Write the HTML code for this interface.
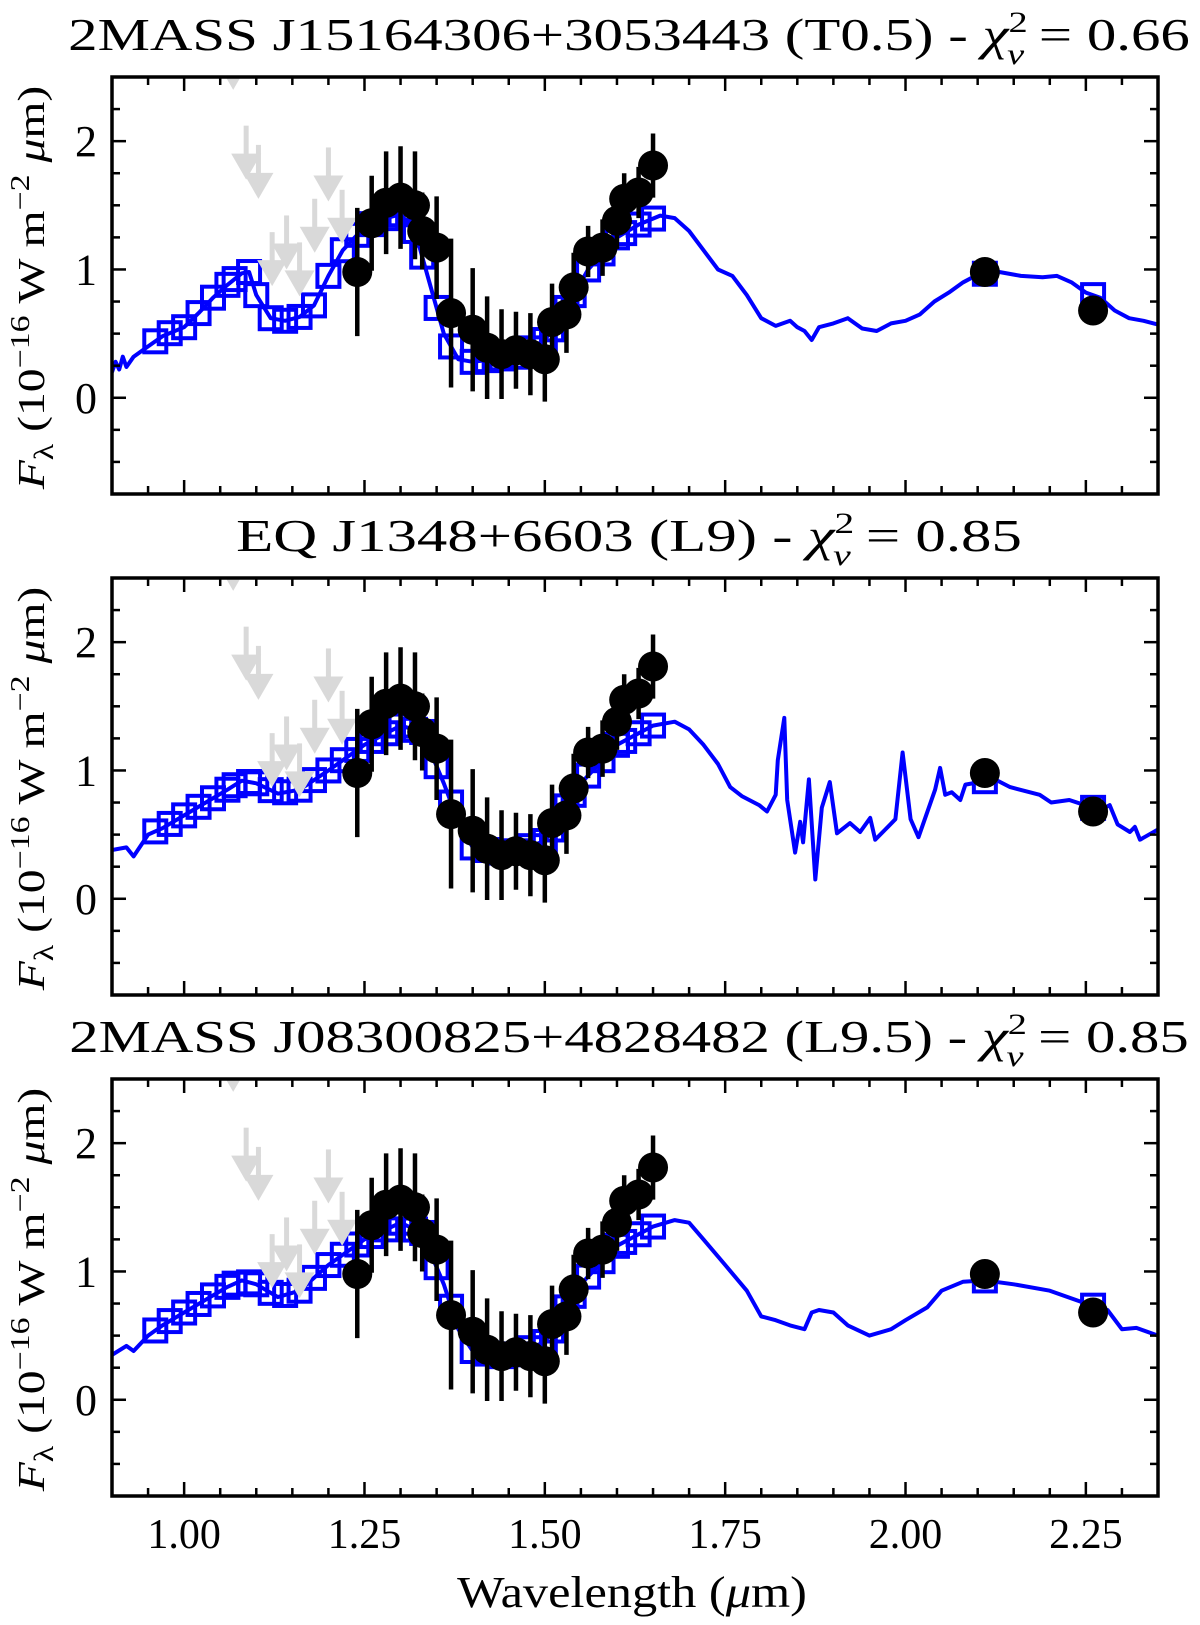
<!DOCTYPE html>
<html><head><meta charset="utf-8"><style>
html,body{margin:0;padding:0;background:#fff;overflow:hidden;}
svg{display:block;}
text{font-family:"Liberation Serif",serif;fill:#000;}
</style></head>
<body>
<svg id="fig" width="1200" height="1625" viewBox="0 0 1200 1625" xmlns="http://www.w3.org/2000/svg"></svg>
<script>
// ---------- data ----------
const obsWave = [1.24,1.26,1.28,1.30,1.32,1.33,1.35,1.37,1.40,1.42,1.44,1.46,1.48,1.50,1.51,1.53,1.54,1.56,1.58,1.60,1.61,1.63,1.65,2.11,2.26];
const obsFlux = [0.98,1.36,1.52,1.56,1.50,1.30,1.17,0.66,0.53,0.39,0.34,0.37,0.34,0.30,0.59,0.65,0.86,1.14,1.17,1.38,1.55,1.60,1.81,0.98,0.68];
const obsErr  = [0.5,0.37,0.4,0.4,0.42,0.3,0.4,0.58,0.48,0.4,0.35,0.3,0.32,0.33,0.3,0.3,0.27,0.2,0.22,0.22,0.2,0.2,0.25,0.03,0.03];
const limWave = [1.068,1.086,1.103,1.122,1.142,1.160,1.181,1.200,1.219];
const limFlux = [2.40,1.70,1.55,0.87,1.00,0.79,1.13,1.53,1.20];
const synWave = [0.96,0.98,1.00,1.02,1.04,1.06,1.07,1.09,1.10,1.12,1.14,1.16,1.18,1.20,1.22,1.24,1.26,1.28,1.30,1.32,1.33,1.35,1.37,1.40,1.42,1.44,1.46,1.48,1.50,1.51,1.53,1.54,1.56,1.58,1.60,1.61,1.63,1.65,2.11,2.26];

const titles = [
  {name:"2MASS J15164306+3053443 (T0.5)", chi:"0.66"},
  {name:"EQ J1348+6603 (L9)", chi:"0.85"},
  {name:"2MASS J08300825+4828482 (L9.5)", chi:"0.85"}
];
const titleWidths = [1122,786,1120];
const xTicks = [1.00,1.25,1.50,1.75,2.00,2.25];
const xTickLabels = ["1.00","1.25","1.50","1.75","2.00","2.25"];
const yTicks = [0,1,2];
const yTickLabels = ["0","1","2"];

const m1w = [0.90,0.905,0.91,0.915,0.92,0.93,0.95,0.97,1.00,1.02,1.04,1.06,1.08,1.09,1.10,1.12,1.14,1.16,1.18,1.20,1.22,1.25,1.28,1.30,1.32,1.34,1.36,1.38,1.40,1.43,1.46,1.50,1.53,1.56,1.60,1.63,1.66,1.68,1.70,1.72,1.74,1.76,1.78,1.80,1.82,1.84,1.85,1.86,1.87,1.88,1.90,1.92,1.94,1.96,1.98,2.00,2.02,2.04,2.06,2.08,2.10,2.13,2.16,2.19,2.21,2.23,2.25,2.27,2.29,2.31,2.33,2.35];
const m1f = [0.20,0.28,0.22,0.32,0.24,0.32,0.40,0.48,0.55,0.66,0.78,0.88,0.97,0.98,0.80,0.62,0.60,0.63,0.72,0.95,1.15,1.33,1.40,1.43,1.30,0.90,0.50,0.30,0.28,0.30,0.32,0.45,0.70,1.00,1.25,1.35,1.42,1.40,1.30,1.15,1.00,0.95,0.80,0.62,0.56,0.60,0.55,0.52,0.45,0.55,0.58,0.62,0.54,0.52,0.58,0.60,0.65,0.75,0.82,0.90,0.96,0.98,0.95,0.94,0.95,0.90,0.82,0.78,0.68,0.62,0.60,0.57];
const m2w = [0.90,0.92,0.93,0.95,0.97,1.00,1.03,1.06,1.08,1.10,1.13,1.16,1.20,1.25,1.30,1.33,1.36,1.38,1.40,1.45,1.50,1.55,1.60,1.65,1.68,1.70,1.72,1.74,1.757,1.773,1.797,1.808,1.82,1.823,1.832,1.836,1.847,1.854,1.858,1.866,1.875,1.884,1.895,1.905,1.923,1.937,1.951,1.958,1.972,1.986,1.996,2.007,2.018,2.041,2.048,2.055,2.064,2.076,2.083,2.124,2.145,2.186,2.202,2.227,2.27,2.283,2.294,2.311,2.318,2.325,2.35];
const m2f = [0.38,0.40,0.33,0.50,0.55,0.65,0.75,0.85,0.92,0.90,0.82,0.85,1.00,1.20,1.35,1.30,0.90,0.60,0.40,0.35,0.45,0.90,1.20,1.35,1.38,1.32,1.20,1.05,0.87,0.80,0.73,0.68,0.81,1.08,1.41,0.77,0.36,0.60,0.44,0.93,0.15,0.71,0.91,0.51,0.59,0.52,0.63,0.46,0.54,0.62,1.14,0.62,0.48,0.85,1.02,0.81,0.83,0.77,0.89,0.93,0.87,0.81,0.75,0.77,0.69,0.73,0.58,0.52,0.56,0.46,0.54];
const m3w = [0.90,0.92,0.93,0.95,0.97,1.00,1.03,1.06,1.08,1.10,1.13,1.16,1.20,1.25,1.30,1.33,1.36,1.38,1.40,1.45,1.50,1.55,1.60,1.65,1.68,1.70,1.72,1.75,1.78,1.80,1.82,1.84,1.86,1.87,1.88,1.90,1.92,1.95,1.98,2.00,2.03,2.05,2.08,2.11,2.15,2.20,2.25,2.28,2.30,2.32,2.35];
const m3f = [0.35,0.42,0.38,0.50,0.58,0.68,0.78,0.88,0.93,0.90,0.80,0.85,1.05,1.25,1.38,1.30,0.90,0.55,0.38,0.33,0.45,0.90,1.20,1.35,1.40,1.38,1.25,1.05,0.85,0.65,0.62,0.58,0.55,0.68,0.70,0.68,0.58,0.50,0.55,0.62,0.72,0.85,0.92,0.93,0.90,0.85,0.75,0.70,0.55,0.56,0.50];
const models = [[m1w,m1f],[m2w,m2f],[m3w,m3f]];

// ---------- layout ----------
const NS="http://www.w3.org/2000/svg";
const svg=document.getElementById('fig');
const X0=112, X1=1158, XMIN=0.9, XMAX=2.35, YMIN=-0.75, YMAX=2.5;
const panelTops=[77,578,1079], PH=417;
function sx(v){return X0+(v-XMIN)/(XMAX-XMIN)*(X1-X0);}
function mk(tag,attrs,parent){const e=document.createElementNS(NS,tag);for(const k in attrs)e.setAttribute(k,attrs[k]);(parent||svg).appendChild(e);return e;}
function interp(w,f,x){for(let i=0;i<w.length-1;i++){if(x>=w[i]&&x<=w[i+1]){const t=(x-w[i])/(w[i+1]-w[i]);return f[i]+t*(f[i+1]-f[i]);}}return f[f.length-1];}
// stretch a text element along its reading direction to a target length
function fit(g,el,cx,cy,target,rot){
  const bb=el.getBBox();
  const s=target/bb.width;
  g.setAttribute('transform','translate('+cx+','+cy+')'+(rot?' rotate(-90)':'')+' scale('+s+',1)');
}

const defs=mk('defs',{});
panelTops.forEach((top,p)=>{
  const cp=mk('clipPath',{id:'clip'+p},defs);
  mk('rect',{x:X0,y:top,width:X1-X0,height:PH},cp);
});

panelTops.forEach((top,p)=>{
  const sy=v=>top+(YMAX-v)/(YMAX-YMIN)*PH;
  const g=mk('g',{});
  
  
  // title
  const tg=mk('g',{},g);
  const t=mk('text',{x:0,y:0,'text-anchor':'middle','font-size':46},tg);
  
  
  t.appendChild(document.createTextNode(titles[p].name+' - '));
  const c=mk('tspan',{'font-style':'italic'},t); c.textContent='χ';
  const sup=mk('tspan',{dy:-18,'font-size':30},t); sup.textContent='2';
  const sub=mk('tspan',{dx:-16,dy:32,'font-size':30,'font-style':'italic'},t); sub.textContent='ν';
  const rest=mk('tspan',{dy:-14},t); rest.textContent=' = '+titles[p].chi;
  fit(tg,t,629,top-27,titleWidths[p],false);

  const plot=mk('g',{'clip-path':'url(#clip'+p+')'},g);
  const [mw,mf]=models[p];
  let d='';
  mw.forEach((w,i)=>{d+=(i?'L':'M')+sx(w).toFixed(1)+','+sy(mf[i]).toFixed(1);});
  const line=mk('path',{d:d,fill:'none',stroke:'#0000ff','stroke-width':4,'stroke-linejoin':'round'},plot);
  
  
  synWave.forEach(w=>{
    const v=interp(mw,mf,w);
    const r=mk('rect',{x:sx(w)-11,y:sy(v)-11,width:22,height:22,fill:'none',stroke:'#0000ff','stroke-width':4},plot);
    
    
  });
  limWave.forEach((w,i)=>{
    const x=sx(w), yt=sy(limFlux[i]);
    const a=mk('g',{fill:'#d9d9d9',stroke:'none'},plot);
    
    
    mk('rect',{x:x-2.5,y:yt-54,width:5,height:32},a);
    mk('polygon',{points:(x-15)+','+(yt-26)+' '+(x+15)+','+(yt-26)+' '+x+','+yt},a);
  });
  obsWave.forEach((w,i)=>{
    const x=sx(w);
    const eb=mk('line',{x1:x,x2:x,y1:sy(obsFlux[i]+obsErr[i]),y2:sy(obsFlux[i]-obsErr[i]),stroke:'#000','stroke-width':4.5},plot);
    
    
  });
  obsWave.forEach((w,i)=>{
    const pt=mk('circle',{cx:sx(w),cy:sy(obsFlux[i]),r:15,fill:'#000'},plot);
    
    
  });
  const fr=mk('rect',{x:X0,y:top,width:X1-X0,height:PH,fill:'none',stroke:'#000','stroke-width':3.5},g);
  
  
  for(let k=0;k<=29;k++){
    const v=0.9+k*0.05; if(v>2.351) break;
    const major=Math.round(v*100)%25===0;
    const L=major?14:8, x=sx(v);
    mk('line',{x1:x,x2:x,y1:top+PH,y2:top+PH-L,stroke:'#000','stroke-width':2.5},g);
    mk('line',{x1:x,x2:x,y1:top,y2:top+L,stroke:'#000','stroke-width':2.5},g);
  }
  for(let k=0;k<=13;k++){
    const v=-0.75+k*0.25;
    const major=Math.abs(v-Math.round(v))<1e-6;
    const L=major?14:8, y=sy(v);
    mk('line',{x1:X0,x2:X0+L,y1:y,y2:y,stroke:'#000','stroke-width':2.5},g);
    mk('line',{x1:X1,x2:X1-L,y1:y,y2:y,stroke:'#000','stroke-width':2.5},g);
  }
  yTicks.forEach((v,i)=>{
    const tl=mk('text',{x:97,y:sy(v)+15,'text-anchor':'end','font-size':44},g);
    
    
    tl.textContent=yTickLabels[i];
  });
  const yg=mk('g',{},g);
  const yl=mk('text',{x:0,y:0,'text-anchor':'middle','font-size':38},yg);
  
  
  const f=mk('tspan',{'font-style':'italic'},yl); f.textContent='F';
  const l=mk('tspan',{dy:9,'font-size':27},yl); l.textContent='λ';
  const a1=mk('tspan',{dy:-9},yl); a1.textContent=' (10';
  const s1=mk('tspan',{dy:-15,'font-size':27},yl); s1.textContent='−16';
  const a2=mk('tspan',{dy:15},yl); a2.textContent=' W m';
  const s2=mk('tspan',{dy:-15,'font-size':27},yl); s2.textContent='−2';
  const a3=mk('tspan',{dy:15,'font-style':'italic'},yl); a3.textContent=' μ';
  const a4=mk('tspan',{},yl); a4.textContent='m)';
  fit(yg,yl,44,top+PH/2+2,405,true);
});

xTicks.forEach((v,i)=>{
  const tl=mk('text',{x:sx(v),y:1548,'text-anchor':'middle','font-size':42});
  
  
  tl.textContent=xTickLabels[i];
});
const xg=mk('g',{});
const xl=mk('text',{x:0,y:0,'text-anchor':'middle','font-size':44},xg);


xl.appendChild(document.createTextNode('Wavelength ('));
const mu=mk('tspan',{'font-style':'italic'},xl); mu.textContent='μ';
xl.appendChild(document.createTextNode('m)'));
fit(xg,xl,632,1607,350,false);
</script>
</body></html>
